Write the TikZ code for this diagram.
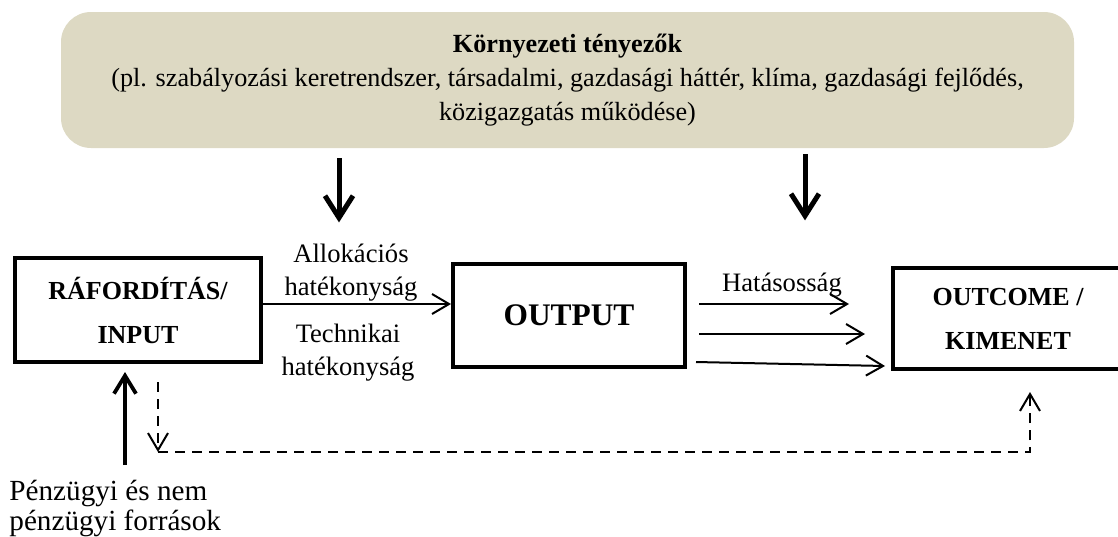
\documentclass[tikz,border=0pt]{standalone}
\usepackage{fontspec}
\setmainfont{Liberation Serif}
\usetikzlibrary{arrows.meta,positioning}
\definecolor{envbeige}{HTML}{DDD9C3}

\begin{document}
\begin{tikzpicture}[x=0.5pt, y=-0.5pt,
	box/.style={rectangle,draw,line width=2pt,align=center,inner sep=0pt,font=\fontsize{13}{22}\selectfont\bfseries},
	lbl/.style={inner sep=1pt,align=center,font=\fontsize{13.3}{16.5}\selectfont},
	flow/.style={-{Straight Barb[length=8.5pt,width=10pt]},line width=1pt},
	push/.style={-{Straight Barb[length=11pt,width=14pt]},line width=2.5pt},
	lift/.style={-{Straight Barb[length=9pt,width=11pt]},line width=1.9pt},
	back/.style={dash pattern=on 5pt off 3.5pt,line width=1.2pt}]
	\useasboundingbox (0,0) rectangle (1118,536);
	\clip (0,0) rectangle (1118,536);

	\node[fill=envbeige,rounded corners=15pt,minimum width=506.5pt,minimum height=68pt,align=center,font=\fontsize{13.1}{17}\selectfont] (env) at (567.5,80) {\textbf{Környezeti tényezők}\\(pl. szabályozási keretrendszer, társadalmi, gazdasági háttér, klíma, gazdasági fejlődés,\\közigazgatás működése)};

	\node[box,minimum width=123pt,minimum height=52pt] (input) at (138,310) {RÁFORDÍTÁS/\\INPUT};
	\node[box,minimum width=116pt,minimum height=51.5pt,font=\fontsize{15.7}{19}\selectfont\bfseries] (output) at (569,315.5) {OUTPUT};
	\node[box,minimum width=115pt,minimum height=50.5pt] (outcome) at (1008,318.5) {OUTCOME /\\KIMENET};

	\node[lbl,anchor=north west,align=left,font=\fontsize{14.6}{15}\selectfont] (funds) at (7,478) {Pénzügyi és nem\\pénzügyi források};

	% environment acts on both stages
	\draw[push] ([xshift=-114.25pt,yshift=-5pt]env.south) -- ++(0,-32pt);
	\draw[push] ([xshift=118.75pt,yshift=-3pt]env.south) -- ++(0,-33pt);

	\draw[flow] ([yshift=3pt]input.east) -- ([yshift=3pt]input.east -| output.west)
		node[lbl,above,pos=0.5,xshift=-3pt] {Allokációs\\hatékonyság}
		node[lbl,below=8.5pt,pos=0.5,xshift=-4.5pt] {Technikai\\hatékonyság};

	\draw[flow] ([xshift=6pt,yshift=5.75pt]output.east) -- ++(75pt,0) node[lbl,above=2pt,pos=0.5,xshift=4pt] {Hatásosság};
	\draw[flow] ([xshift=6pt,yshift=-9.25pt]output.east) -- ++(83pt,0);
	\draw[flow] ([xshift=4.5pt,yshift=-23.25pt]output.east) -- ++(94.5pt,-2pt);

	\draw[lift] ([xshift=-6.5pt,yshift=-50.5pt]input.south) -- ([xshift=-6.5pt,yshift=-4pt]input.south);

	% feedback loop
	\path ([xshift=10pt,yshift=-9pt]input.south) coordinate (drop) ++(0,-35pt) coordinate (turn);
	\draw[back,flow] (drop) -- (turn);
	\draw[back,flow] (turn) -| ([xshift=11pt,yshift=-10.5pt]outcome.south);
\end{tikzpicture}
\end{document}
